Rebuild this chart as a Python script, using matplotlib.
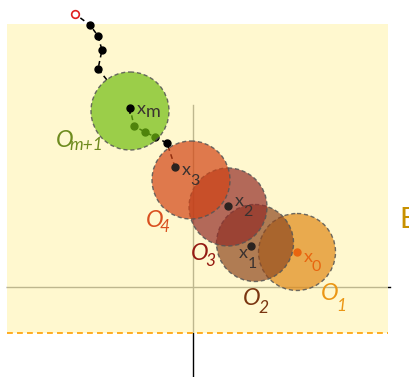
import matplotlib
matplotlib.use('Agg')
import matplotlib.pyplot as plt
from matplotlib.patches import Circle, Rectangle
import numpy as np

plt.rcParams['font.family'] = ['Lato', 'DejaVu Sans']

# iterates x0..x3 (image pixel coords, y grows downward)
iter_x = [297, 251, 228, 175]
iter_y = [252, 246, 206, 167]
iter_sub = ['0', '1', '2', '3']

# points between x3 and xm (hidden under the green ball)
mid_x = [175, 167, 155, 145, 134, 130]
mid_y = [167, 143, 137, 132, 126, 108]

# xm and the points after it, ending at the open red point
xm = (130, 108)
tail_x = [98, 102, 98, 90, 75]
tail_y = [69, 50, 36, 25, 14]

# balls O1..O4 and O_{m+1}
ball_names = ['1', '2', '3', '4']
ball_cx = [297, 255, 228, 191]
ball_cy = [252, 243, 207, 180]
ball_r = [38.5, 38.5, 39, 39]
ball_colors = ['#E08918', '#8F481F', '#932C27', '#D24415']
label_colors = ['#EB9614', '#7A3510', '#951A12', '#D95020']
green_c = (130, 111)
green_r = 39

W, H = 409, 377
fig = plt.figure(figsize=(W / 100, H / 100), dpi=100)
ax = fig.add_axes([0, 0, 1, 1])
ax.set_xlim(0, W)
ax.set_ylim(H, 0)
ax.axis('off')

# axes lines (sit under the yellow region)
ax.plot([7, 390], [287, 287], color='black', lw=1, zorder=1)
ax.plot([193, 193], [105, H], color='black', lw=1, zorder=1)

# feasible region
ax.add_patch(Rectangle((7, 24), 381, 309, facecolor=(1.0, 0.965, 0.75),
                       alpha=0.75, edgecolor='none', zorder=2))
ax.plot([7, 388], [333, 333], color='#FFA000', lw=1.2, ls=(0, (3.5, 2.5)), zorder=3)

dash = (0, (3.2, 2.4))

# path x3 -> xm, under the green ball
ax.plot(mid_x, mid_y, color='black', lw=1.1, ls=dash, zorder=3)
ax.plot(mid_x[1:-1], mid_y[1:-1], 'o', color='black', ms=5, zorder=3)

# green ball
ax.add_patch(Circle(green_c, green_r, facecolor='#71BD11', alpha=0.7,
                    edgecolor='none', zorder=4))
ax.add_patch(Circle(green_c, green_r, fill=False, edgecolor='#555555',
                    ls=(0, (3, 2)), lw=1, alpha=0.85, zorder=4))

# path after xm, starting at the ball edge
p0 = np.array([tail_x[0], tail_y[0]], float)
p1 = np.array(xm, float)
d = p1 - p0
f = p0 - np.array(green_c)
a_, b_, c_ = d @ d, 2 * f @ d, f @ f - green_r ** 2
t = (-b_ - np.sqrt(b_ * b_ - 4 * a_ * c_)) / (2 * a_)
edge = p0 + t * d
ax.plot([edge[0]] + tail_x, [edge[1]] + tail_y, color='black', lw=1.1,
        ls=dash, zorder=5)
ax.plot(tail_x[:-1], tail_y[:-1], 'o', color='black', ms=5, zorder=5)
ax.plot(tail_x[-1], tail_y[-1], 'o', mfc='white', mec='#E02020', mew=1.2,
        ms=5.5, zorder=5)

# balls O1..O4, O4 on top
for i in range(4):
    ax.add_patch(Circle((ball_cx[i], ball_cy[i]), ball_r[i],
                        facecolor=ball_colors[i], alpha=0.7,
                        edgecolor='none', zorder=6 + i))
    ax.add_patch(Circle((ball_cx[i], ball_cy[i]), ball_r[i], fill=False,
                        edgecolor='#555555', ls=(0, (3, 2)), lw=1,
                        alpha=0.85, zorder=6 + i))

# iterate points and labels
ax.plot(xm[0], xm[1], 'o', color='black', ms=5, zorder=12)
ax.plot([xm[0], xm[0]], [xm[1], xm[1] + 5], color='black', lw=1.2, zorder=12)
pt_colors = ['#E8650F', '#2B2320', '#2B2320', '#2B2320']
for i in range(4):
    ax.plot(iter_x[i], iter_y[i], 'o', color=pt_colors[i], ms=5, zorder=12)

lbl_pos = [(304, 262, 312, 271), (239, 258, 248, 268),
           (235, 206, 243, 216), (182, 175, 190, 185)]
for i in range(4):
    xx, yy, sx, sy = lbl_pos[i]
    c = pt_colors[i] if i == 0 else '#3A3230'
    ax.text(xx, yy, 'x', color=c, fontsize=13, ha='left', va='baseline', zorder=13)
    ax.text(sx, sy, iter_sub[i], color=c, fontsize=11.5, ha='left', va='baseline', zorder=13)
ax.text(137, 114, 'x', color='#3A3230', fontsize=13, ha='left', va='baseline', zorder=13)
ax.text(146, 117, 'm', color='#3A3230', fontsize=13, ha='left', va='baseline', zorder=13)

# ball labels
ball_lbl = [(321, 300, 336, 311), (243, 305, 258, 313),
            (191, 260, 205, 266), (146, 227, 160, 232)]
for i in range(4):
    xx, yy, sx, sy = ball_lbl[i]
    ax.text(xx, yy, 'O', color=label_colors[i], fontsize=17, style='italic',
            ha='left', va='baseline', zorder=13)
    ax.text(sx, sy, ball_names[i], color=label_colors[i], fontsize=12.5,
            style='italic', ha='left', va='baseline', zorder=13)
ax.text(56, 147, 'O', color='#6E8B1E', fontsize=17, style='italic',
        ha='left', va='baseline', zorder=13)
ax.text(69, 150, 'm+1', color='#6E8B1E', fontsize=12.5, style='italic',
        ha='left', va='baseline', zorder=13)

ax.text(399, 228, 'E', color='#C89100', fontsize=21, ha='left', va='baseline',
        zorder=13)

fig.savefig('out.png', dpi=100, facecolor='white')
